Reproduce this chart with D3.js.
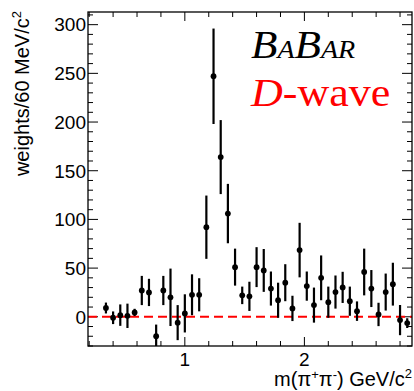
<!DOCTYPE html>
<html>
<head>
<meta charset="utf-8">
<script src="https://cdn.jsdelivr.net/npm/d3@7"></script>
<style>
  body { margin: 0; background: #fff; }
  svg { display: block; }
</style>
</head>
<body>
<div id="chart"></div>
<script>
// bin centres in GeV/c^2 (60 MeV bins)
let masses = [0.34, 0.40, 0.46, 0.52, 0.58, 0.64, 0.70, 0.76, 0.82, 0.88,
              0.94, 1.00, 1.06, 1.12, 1.18, 1.24, 1.30, 1.36, 1.42, 1.48,
              1.54, 1.60, 1.66, 1.72, 1.78, 1.84, 1.90, 1.96, 2.02, 2.08,
              2.14, 2.20, 2.26, 2.32, 2.38, 2.44, 2.50, 2.56, 2.62, 2.68,
              2.74, 2.80, 2.86];
let weights = [9, -1, 1.7, 1, 4.5, 27, 25, -20, 27, 20,
               -6, 3.5, 22.6, 22.6, 92, 247, 164, 106, 51, 22,
               21, 51, 47.6, 29, 17, 35, 8.6, 68.5, 31.5, 12,
               40, 15, 25.4, 30.2, 16, 5.8, 46, 29, 2.4, 25.4,
               33.5, -3.4, -6.5];
let errors = [5.6, 6.5, 11, 12.5, 3.7, 15, 14, 12, 15, 29.5,
              18, 19.6, 21, 17, 32.5, 49, 38, 30.5, 19, 9,
              15, 20.5, 22, 17.5, 18, 19, 13, 28, 15, 18,
              23, 16, 17, 16, 15, 10, 24, 19, 12, 19,
              22, 15.5, 5];
let yTickLabels = [0, 50, 100, 150, 200, 250, 300];
let xTickLabels = [1, 2];

let W = 414, H = 391;
let margin = {top: 12, right: 2, bottom: 45, left: 88};
let x0 = margin.left, x1 = W - margin.right,
    y0 = margin.top, y1 = H - margin.bottom;

let x = d3.scaleLinear().domain([0.19, 2.9]).range([x0, x1]);
let y = d3.scaleLinear().domain([-30, 313]).range([y1, y0]);

let points = masses.map((m, i) => ({m: m, w: weights[i], e: errors[i]}));

const svg = d3.select("#chart")
    .append("svg")
    .attr("width", W)
    .attr("height", H)
    .style("font-family", "'Liberation Sans', Arial, sans-serif");

svg.append("defs").append("clipPath")
    .attr("id", "frame-clip")
    .append("rect")
    .attr("x", x0).attr("y", y0)
    .attr("width", x1 - x0).attr("height", y1 - y0);

// ticks, both sides
let yMinor = d3.range(-30, 314, 10);
let xMinor = d3.range(0.2, 2.91, 0.2).map(v => +v.toFixed(2));

let ticks = svg.append("g").attr("stroke", "#000").attr("stroke-width", 1);
ticks.selectAll(".yt")
    .data(yMinor)
    .join("line")
    .attr("x1", x0).attr("x2", d => x0 + (d % 50 === 0 ? 10 : 5))
    .attr("y1", d => y(d)).attr("y2", d => y(d));
ticks.selectAll(".yt2")
    .data(yMinor)
    .join("line")
    .attr("x1", x1).attr("x2", d => x1 - (d % 50 === 0 ? 10 : 5))
    .attr("y1", d => y(d)).attr("y2", d => y(d));
ticks.selectAll(".xt")
    .data(xMinor)
    .join("line")
    .attr("x1", d => x(d)).attr("x2", d => x(d))
    .attr("y1", y1).attr("y2", d => y1 - (Math.abs(d - Math.round(d)) < 1e-6 ? 9 : 5));
ticks.selectAll(".xt2")
    .data(xMinor)
    .join("line")
    .attr("x1", d => x(d)).attr("x2", d => x(d))
    .attr("y1", y0).attr("y2", d => y0 + (Math.abs(d - Math.round(d)) < 1e-6 ? 9 : 5));

// tick labels
svg.append("g")
    .selectAll("text")
    .data(yTickLabels)
    .join("text")
    .attr("x", x0 - 2)
    .attr("y", d => y(d))
    .attr("dy", "0.36em")
    .attr("text-anchor", "end")
    .style("font-size", "19px")
    .text(d => d);

svg.append("g")
    .selectAll("text")
    .data(xTickLabels)
    .join("text")
    .attr("x", d => x(d))
    .attr("y", 366)
    .attr("text-anchor", "middle")
    .style("font-size", "19px")
    .text(d => d);

// zero line
svg.append("line")
    .attr("x1", x0).attr("x2", x1)
    .attr("y1", y(0)).attr("y2", y(0))
    .attr("stroke", "#ff0000")
    .attr("stroke-width", 2)
    .attr("stroke-dasharray", "9,5");

// points with error bars
let marks = svg.append("g").attr("clip-path", "url(#frame-clip)");
marks.selectAll("line")
    .data(points)
    .join("line")
    .attr("x1", d => x(d.m)).attr("x2", d => x(d.m))
    .attr("y1", d => y(d.w - d.e)).attr("y2", d => y(d.w + d.e))
    .attr("stroke", "#000")
    .attr("stroke-width", 2.2);
marks.selectAll("circle")
    .data(points)
    .join("circle")
    .attr("cx", d => x(d.m))
    .attr("cy", d => y(d.w))
    .attr("r", 2.9)
    .attr("fill", "#000");

// frame
svg.append("rect")
    .attr("x", x0).attr("y", y0)
    .attr("width", x1 - x0).attr("height", y1 - y0)
    .attr("fill", "none")
    .attr("stroke", "#000")
    .attr("stroke-width", 1.3);

// axis titles
let yt = svg.append("text")
    .attr("transform", "translate(29," + 11 + ") rotate(-90)")
    .attr("text-anchor", "end")
    .style("font-size", "20px");
yt.append("tspan").text("weights/60 MeV/c");
yt.append("tspan").attr("dy", -8).style("font-size", "13px").text("2");

let xt = svg.append("text")
    .attr("x", 412)
    .attr("y", 386)
    .attr("text-anchor", "end")
    .style("font-size", "20px");
xt.append("tspan").text("m(\u03c0");
xt.append("tspan").attr("dy", -7).style("font-size", "13px").text("+");
xt.append("tspan").attr("dy", 7).text("\u03c0");
xt.append("tspan").attr("dy", -7).style("font-size", "13px").text("-");
xt.append("tspan").attr("dy", 7).text(") GeV/c");
xt.append("tspan").attr("dy", -8).style("font-size", "13px").text("2");

// labels
let babar = svg.append("g")
    .attr("transform", "translate(251,58) scale(1.08,1)")
    .append("text")
    .style("font-family", "'Liberation Serif', 'Times New Roman', serif")
    .style("font-style", "italic")
    .attr("fill", "#000");
babar.append("tspan").style("font-size", "40px").text("B");
babar.append("tspan").style("font-size", "26px").text("A");
babar.append("tspan").style("font-size", "40px").text("B");
babar.append("tspan").style("font-size", "26px").text("AR");

let wave = svg.append("g")
    .attr("transform", "translate(251,106) scale(1.1,1)")
    .append("text")
    .style("font-family", "'Liberation Serif', 'Times New Roman', serif")
    .style("font-size", "40px")
    .attr("fill", "#ff0000");
wave.append("tspan").style("font-style", "italic").text("D");
wave.append("tspan").text("-wave");
</script>
</body>
</html>
